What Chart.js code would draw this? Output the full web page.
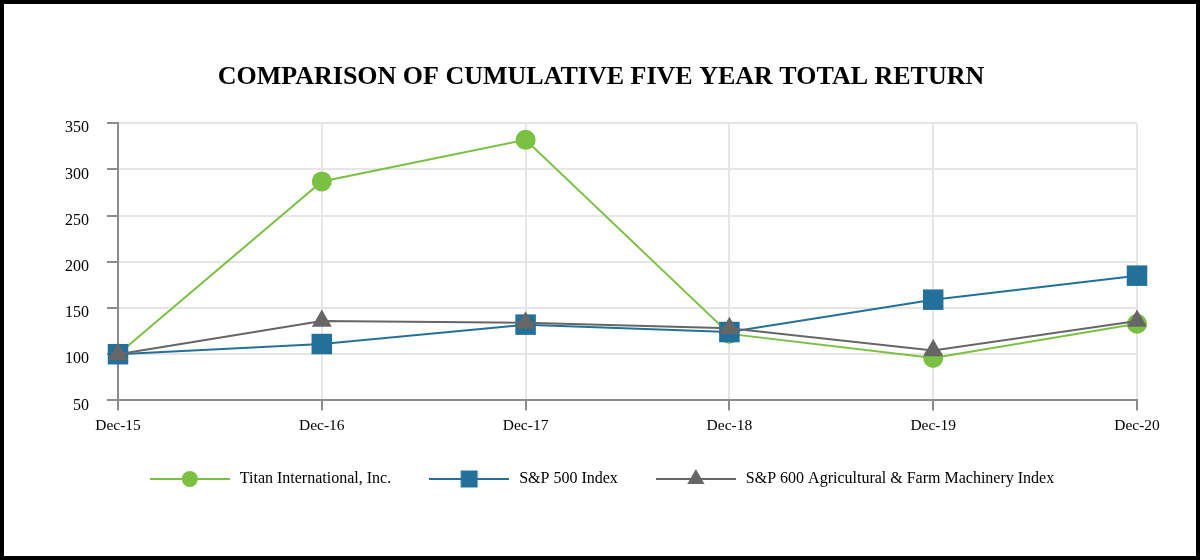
<!DOCTYPE html>
<html>
<head>
<meta charset="utf-8">
<script src="https://cdn.jsdelivr.net/npm/chart.js@4/dist/chart.umd.min.js"></script>
<style>
    html, body { margin: 0; padding: 0; background: #fff; }
    #frame {
        width: 1200px;
        height: 560px;
        box-sizing: border-box;
        border: 4px solid #000;
        background: #fff;
    }
    #frame canvas { display: block; }
</style>
</head>
<body>
<div id="frame">
    <canvas id="return-chart" width="1192" height="552"></canvas>
</div>
<script>
const categories = ['Dec-15', 'Dec-16', 'Dec-17', 'Dec-18', 'Dec-19', 'Dec-20'];
const titanValues = [100, 287, 332, 122, 96, 133];
const sp500Values = [100, 111, 132, 124, 159, 185];
const sp600AgValues = [100, 136, 134, 128, 104, 136];
const yTicks = [50, 100, 150, 200, 250, 300, 350];

const seriesNames = ['Titan International, Inc.', 'S&P 500 Index', 'S&P 600 Agricultural & Farm Machinery Index'];
const colors = {
    green: '#7ac143',
    blue: '#23709a',
    grey: '#666666'
};

const serif = '"Liberation Serif", "Times New Roman", serif';

// legend icon: a short line with the marker in the middle
function legendIcon(color, pointStyle, radius) {
    const c = document.createElement('canvas');
    c.width = 80;
    c.height = 24;
    const ctx = c.getContext('2d');
    ctx.strokeStyle = color;
    ctx.lineWidth = 2;
    ctx.beginPath();
    ctx.moveTo(0, 12);
    ctx.lineTo(80, 12);
    ctx.stroke();
    ctx.fillStyle = color;
    Chart.helpers.drawPoint(ctx, { pointStyle: pointStyle, radius: radius, borderWidth: 0, rotation: 0 }, 40, 12);
    return c;
}

const icons = [
    legendIcon(colors.green, 'circle', 8),
    legendIcon(colors.blue, 'rect', 12),
    legendIcon(colors.grey, 'triangle', 10)
];

function lineDataset(label, data, color, pointStyle, radius, order) {
    return {
        label: label,
        data: data,
        borderColor: color,
        backgroundColor: color,
        borderWidth: 2,
        pointStyle: pointStyle,
        pointRadius: radius,
        pointHoverRadius: radius,
        pointBorderWidth: 0,
        tension: 0,
        clip: false,
        order: order
    };
}

new Chart(document.getElementById('return-chart'), {
    type: 'line',
    data: {
        labels: categories,
        datasets: [
            lineDataset(seriesNames[0], titanValues, colors.green, 'circle', 10, 3),
            lineDataset(seriesNames[1], sp500Values, colors.blue, 'rect', 14.5, 2),
            lineDataset(seriesNames[2], sp600AgValues, colors.grey, 'triangle', 11.5, 1)
        ]
    },
    options: {
        responsive: false,
        animation: false,
        devicePixelRatio: 1,
        layout: {
            padding: { left: 61, right: 59, top: 0, bottom: 59 }
        },
        scales: {
            x: {
                offset: false,
                afterFit: axis => {
                    axis.height -= 6;
                },
                grid: {
                    color: '#e6e6e6',
                    lineWidth: 2,
                    tickLength: 10,
                    tickColor: '#8c8c8c',
                    tickWidth: 2
                },
                border: { color: '#8c8c8c', width: 2 },
                ticks: {
                    color: '#000',
                    padding: 6,
                    maxRotation: 0,
                    font: { family: serif, size: 15.5 }
                }
            },
            y: {
                min: 50,
                max: 350,
                afterBuildTicks: axis => {
                    axis.ticks = yTicks.map(v => ({ value: v }));
                },
                afterFit: axis => {
                    axis.width = 53;
                },
                grid: {
                    color: '#e6e6e6',
                    lineWidth: 2,
                    tickLength: 11,
                    tickColor: '#8c8c8c',
                    tickWidth: 2
                },
                border: { color: '#8c8c8c', width: 2 },
                ticks: {
                    color: '#000',
                    padding: 18,
                    labelOffset: 5,
                    font: { family: serif, size: 16 }
                }
            }
        },
        plugins: {
            title: {
                display: true,
                text: 'COMPARISON OF CUMULATIVE FIVE YEAR TOTAL RETURN',
                color: '#000',
                font: { family: serif, size: 26, weight: 'bold' },
                padding: { top: 58, bottom: 30 }
            },
            legend: {
                position: 'bottom',
                labels: {
                    usePointStyle: true,
                    pointStyleWidth: 84,
                    padding: 36,
                    color: '#000',
                    font: { family: serif, size: 16 },
                    generateLabels: () => seriesNames.map((name, i) => ({
                        text: name,
                        pointStyle: icons[i],
                        fillStyle: 'transparent',
                        strokeStyle: 'transparent',
                        lineWidth: 0,
                        hidden: false,
                        datasetIndex: i
                    }))
                }
            },
            tooltip: { enabled: false }
        }
    }
});
</script>
</body>
</html>
